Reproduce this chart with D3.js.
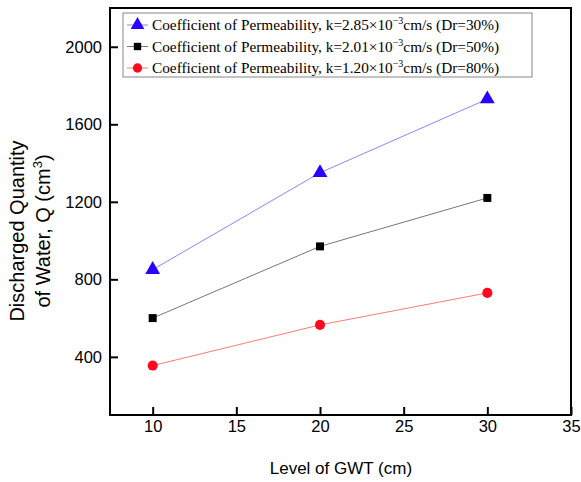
<!DOCTYPE html>
<html>
<head>
<meta charset="utf-8">
<script src="https://cdn.jsdelivr.net/npm/d3@7"></script>
<style>
  body { margin: 0; background: #fff; }
  svg { display: block; }
</style>
</head>
<body>
<div id="chart"></div>
<script>
// Data
const gwtLevels = [10, 20, 30];
const seriesNames = ["Dr=30%", "Dr=50%", "Dr=80%"];
const kValues = ["2.85", "2.01", "1.20"];
const qDr30 = [850, 1350, 1730];
const qDr50 = [600, 970, 1220];
const qDr80 = [355, 565, 730];
const xTicks = [10, 15, 20, 25, 30, 35];
const yTicks = [400, 800, 1200, 1600, 2000];

const width = 581, height = 482;
const margin = { top: 8, right: 10, bottom: 67, left: 110 };
const innerWidth = width - margin.left - margin.right;
const innerHeight = height - margin.top - margin.bottom;

const series = [
    { name: seriesNames[0], k: kValues[0], values: qDr30, line: "#8888ff", fill: "#2a00ff", symbol: d3.symbolTriangle, size: 95 },
    { name: seriesNames[1], k: kValues[1], values: qDr50, line: "#777", fill: "#000", symbol: d3.symbolSquare, size: 64 },
    { name: seriesNames[2], k: kValues[2], values: qDr80, line: "#ff7a7a", fill: "#ff0a1e", symbol: d3.symbolCircle, size: 80 }
];

const svg = d3.select("#chart")
    .append("svg")
    .attr("width", width)
    .attr("height", height);

const g = svg.append("g").attr("transform", `translate(${margin.left},${margin.top})`);

// Scales
const x = d3.scaleLinear().domain([7.45, 35]).range([0, innerWidth]);
const y = d3.scaleLinear().domain([100, 2200]).range([innerHeight, 0]);

// Axes (inward ticks)
const xAxisG = g.append("g")
    .attr("transform", `translate(0,${innerHeight})`)
    .call(d3.axisBottom(x).tickValues(xTicks).tickFormat(d3.format("d"))
        .tickSizeInner(-8).tickSizeOuter(0).tickPadding(5));
const yAxisG = g.append("g")
    .call(d3.axisLeft(y).tickValues(yTicks).tickFormat(d3.format("d"))
        .tickSizeInner(-8).tickSizeOuter(0).tickPadding(8));

[xAxisG, yAxisG].forEach(ax => {
    ax.select(".domain").remove();
    ax.selectAll(".tick line").attr("stroke", "#000").attr("stroke-width", 2);
    ax.selectAll(".tick text")
        .attr("fill", "#000")
        .attr("font-family", "'Liberation Sans', Arial, sans-serif")
        .attr("font-size", "16.5px");
});

// Frame
g.append("rect")
    .attr("x", 0).attr("y", 0)
    .attr("width", innerWidth).attr("height", innerHeight)
    .attr("fill", "none")
    .attr("stroke", "#000")
    .attr("stroke-width", 2);

// Lines and markers
const line = d3.line()
    .x((d, i) => x(gwtLevels[i]))
    .y(d => y(d));

series.forEach(s => {
    g.append("path")
        .datum(s.values)
        .attr("fill", "none")
        .attr("stroke", s.line)
        .attr("stroke-width", 1)
        .attr("d", line);

    g.selectAll(null)
        .data(s.values)
        .enter()
        .append("path")
        .attr("transform", (d, i) => `translate(${x(gwtLevels[i])},${y(d)})`)
        .attr("d", d3.symbol().type(s.symbol).size(s.size))
        .attr("fill", s.fill);
});

// Legend
const legend = g.append("g").attr("transform", "translate(13,5)");
legend.append("rect")
    .attr("width", 409)
    .attr("height", 64)
    .attr("fill", "#fff")
    .attr("stroke", "#888")
    .attr("stroke-width", 1);

series.forEach((s, i) => {
    const row = legend.append("g").attr("transform", `translate(0,${12 + i * 21.5})`);
    row.append("line")
        .attr("x1", 4).attr("x2", 25)
        .attr("stroke", s.line).attr("stroke-width", 1);
    row.append("path")
        .attr("transform", "translate(14.5,0)")
        .attr("d", d3.symbol().type(s.symbol).size(s.size * 0.85))
        .attr("fill", s.fill);
    const t = row.append("text")
        .attr("x", 29)
        .attr("y", 5)
        .attr("font-family", "'Liberation Serif', 'Times New Roman', serif")
        .attr("font-size", "15.3px")
        .attr("fill", "#000");
    t.append("tspan").text(`Coefficient of Permeability, k=${s.k}\u00d710`);
    t.append("tspan").attr("dy", -6).attr("font-size", "10px").text("\u22123");
    t.append("tspan").attr("dy", 6).text(`cm/s (${s.name})`);
});

// Axis titles
svg.append("text")
    .attr("x", margin.left + x(21.25))
    .attr("y", 474)
    .attr("text-anchor", "middle")
    .attr("font-family", "'Liberation Sans', Arial, sans-serif")
    .attr("font-size", "17px")
    .attr("fill", "#000")
    .text("Level of GWT (cm)");

const yTitle = svg.append("g").attr("transform", "translate(0,231) rotate(-90)");
yTitle.append("text")
    .attr("x", 0).attr("y", 24)
    .attr("text-anchor", "middle")
    .attr("font-family", "'Liberation Sans', Arial, sans-serif")
    .attr("font-size", "20px")
    .attr("fill", "#000")
    .text("Discharged Quantity");
const yt2 = yTitle.append("text")
    .attr("x", 0).attr("y", 50)
    .attr("text-anchor", "middle")
    .attr("font-family", "'Liberation Sans', Arial, sans-serif")
    .attr("font-size", "20px")
    .attr("fill", "#000");
yt2.append("tspan").text("of Water, Q (cm");
yt2.append("tspan").attr("dy", -8).attr("font-size", "13px").text("3");
yt2.append("tspan").attr("dy", 8).text(")");
</script>
</body>
</html>
